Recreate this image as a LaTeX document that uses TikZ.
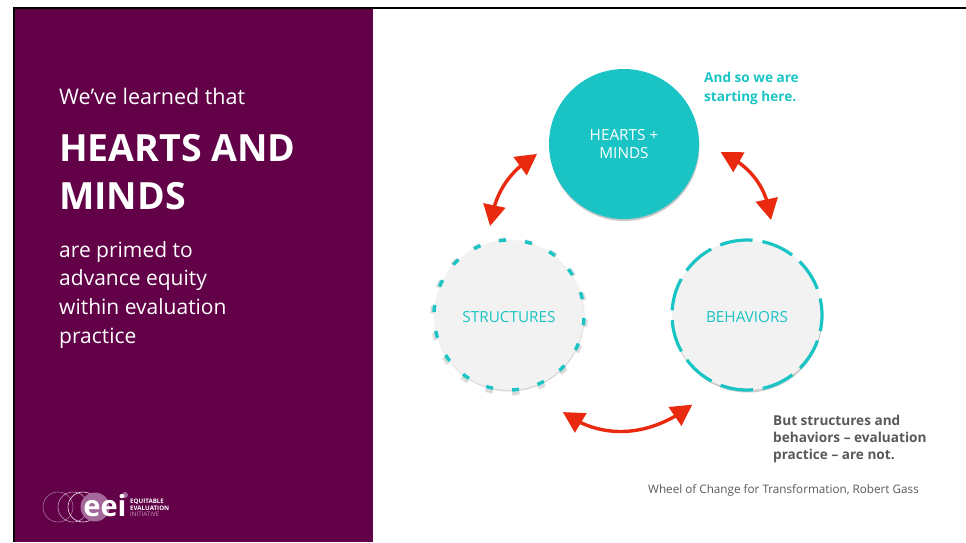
\documentclass[tikz,border=0pt]{standalone}
\usepackage{fontspec}
\setmainfont{Open Sans}
\usetikzlibrary{arrows.meta,shadows,bending,calc}
\definecolor{plum}{HTML}{620048}
\definecolor{teal1}{HTML}{1BC4C4}
\definecolor{wheelgray}{HTML}{F2F2F2}
\definecolor{txtgray}{HTML}{595959}
\definecolor{arrowred}{HTML}{E92A0E}
\definecolor{logoplum}{HTML}{A4699A}
\tikzset{
  wheel/.style={circle,minimum size=150pt,inner sep=0pt,font=\fontsize{15.3}{18}\selectfont,align=center},
  cycle/.style={arrowred,line width=3.4pt,{Triangle[length=21pt,width=22pt,flex=0.9]}-{Triangle[length=21pt,width=22pt,flex=0.9]}},
  sidetxt/.style={anchor=base west,inner sep=0pt,white},
  note/.style={anchor=base west,inner sep=0pt,font=\fontsize{13.6}{16}\bfseries\selectfont},
  logotxt/.style={anchor=base west,inner sep=0pt,white,font=\fontsize{6.2}{7}\selectfont}
}
\begin{document}
\begin{tikzpicture}[x=1pt,y=-1pt]
\useasboundingbox (0,0) rectangle (966,542);

% Left panel
\fill[black] (13,7) rectangle (966,9);
\fill[black] (13,7) rectangle (15,542);
\fill[plum] (15,9) rectangle (373,542);

% Panel text
\node[sidetxt,font=\fontsize{21.5}{26}\selectfont] (learned) at (59,104) {We’ve learned that};
\node[sidetxt,font=\fontsize{37.5}{42}\bfseries\selectfont] (title1) at (59,161) {HEARTS AND};
\node[sidetxt,font=\fontsize{37.5}{42}\bfseries\selectfont] (title2) at (59,209) {MINDS};
\foreach \y/\label in {257/are primed to, 285.5/advance equity, 314/within evaluation, 343/practice}
    \node[sidetxt,font=\fontsize{21}{26}\selectfont] at (59,\y) {\label};

% Logo
\foreach \x/\op in {58/0.45, 73/0.6, 83/0.9}
    \draw[white,opacity=\op,line width=0.6pt] (\x,507) circle (15);
\fill[logoplum] (95,507) circle (14.5);
\fill[logoplum] (125,495) circle (3);
\node[inner sep=0pt,white,font=\fontsize{29}{30}\bfseries\selectfont] (eei) at (105,506) {eei};
\node[logotxt,font=\fontsize{6.2}{7}\bfseries\selectfont] (logo1) at (130,503.5) {EQUITABLE};
\node[logotxt,font=\fontsize{6.2}{7}\bfseries\selectfont] (logo2) at (130,510) {EVALUATION};
\node[logotxt,opacity=0.6] (logo3) at (130,516.5) {INITIATIVE};

% Circles
\node[wheel,fill=teal1,text=white,drop shadow={shadow xshift=0.5pt,shadow yshift=-2pt,opacity=0.45}] (hearts) at (624,144) {HEARTS +\\[0pt]MINDS};
\node[wheel,fill=wheelgray,text=teal1,drop shadow={shadow xshift=0.5pt,shadow yshift=-1.5pt,opacity=0.3}] (structures) at (509,315) {\raisebox{-1.5pt}[\height][0pt]{STRUCTURES}};
\node[wheel,fill=wheelgray,text=teal1,drop shadow={shadow xshift=0.5pt,shadow yshift=-2.5pt,opacity=0.4}] (behaviors) at (747,315) {\raisebox{-1.5pt}[\height][0pt]{BEHAVIORS}};

% Dashes round the grey circles
\foreach \a in {-5,15,...,335} {
    \draw[black,opacity=0.05,line width=5pt] ($(structures)+(0pt,-1.5pt)+(\a-2.8:77pt)$) arc[start angle=\a-2.8,end angle=\a+2.8,radius=77pt];
    \draw[black,opacity=0.1,line width=3pt] ($(structures)+(0pt,-1.5pt)+(\a-2.8:77pt)$) arc[start angle=\a-2.8,end angle=\a+2.8,radius=77pt];
}
\foreach \a in {-5,15,...,335}
    \draw[teal1,line width=3.4pt] ($(structures)+(\a-2.7:75pt)$) arc[start angle=\a-2.7,end angle=\a+2.7,radius=75pt];
\foreach \n in {0,...,10}
    \draw[teal1,line width=3.2pt] ($(behaviors)+(85.8+\n*32.727:75pt)$) arc[start angle=85.8+\n*32.727,delta angle=25.1,radius=75pt];

% Arrow ends
\coordinate (hs) at ($(hearts)+(186.5:87.5pt)$);
\coordinate (sh) at ($(structures)+(102:91pt)$);
\coordinate (hb) at ($(hearts)+(-4.7:97pt)$);
\coordinate (bh) at ($(behaviors)+(75.8:98pt)$);
\coordinate (sb) at ($(structures)+(-61:111pt)$);
\coordinate (bs) at ($(behaviors)+(-121.4:105pt)$);

% Arrows
\draw[cycle] (hs) to[out=212,in=82] (sh);
\draw[cycle] (hb) to[out=-25,in=97] (bh);
\draw[cycle] (sb) to[out=-36,in=218] (bs);

% Notes
\node[note,text=teal1] (here1) at (704,82) {And so we are};
\node[note,text=teal1] (here2) at (704,101) {starting here.};
\foreach \y/\label in {425/But structures and, 442/behaviors – evaluation, 459/practice – are not.}
    \node[note,text=txtgray] at (773,\y) {\label};
\node[anchor=base west,inner sep=0pt,text=txtgray,font=\fontsize{11.7}{14}\selectfont] (gass) at (648,493) {Wheel of Change for Transformation, Robert Gass};
\end{tikzpicture}
\end{document}
